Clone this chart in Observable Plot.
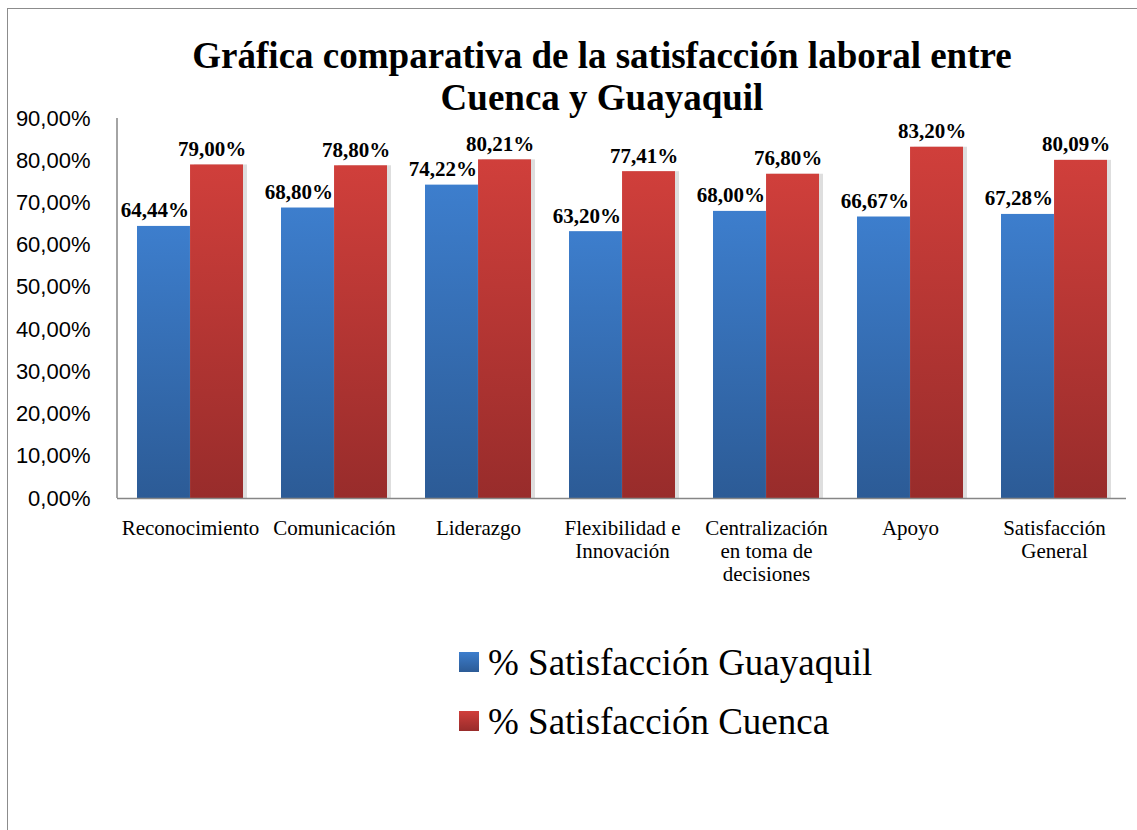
<!DOCTYPE html>
<html>
<head>
<meta charset="utf-8">
<script src="https://cdn.jsdelivr.net/npm/d3@7"></script>
<script src="https://cdn.jsdelivr.net/npm/@observablehq/plot@0.6"></script>
<style>
  html, body { margin: 0; padding: 0; background: #fff; }
  #root { position: relative; width: 1137px; height: 830px; overflow: hidden; background: #fff; }
  #frame { position: absolute; left: 7px; top: 8px; width: 1140px; height: 830px;
           border-left: 1.5px solid #8c8c8c; border-top: 1.5px solid #8c8c8c; }
  #title { position: absolute; left: 0; top: 35px; width: 1204px; text-align: center;
           font-family: "Liberation Serif", Tinos, "Noto Serif", "DejaVu Serif", serif; font-weight: bold;
           font-size: 37px; line-height: 42px; color: #000; }
  #chart { position: absolute; left: 0; top: 100px; }
  .leg { position: absolute; left: 459px; font-family: "Liberation Serif", Tinos, "Noto Serif", "DejaVu Serif", serif;
         font-size: 37px; line-height: 37px; color: #000; white-space: nowrap; }
  .leg .sw { position: absolute; left: 0; width: 20px; height: 20px; top: 8px; }
  .leg .tx { position: absolute; left: 29px; top: 0; }
</style>
</head>
<body>
<div id="root">
  <div id="frame"></div>
  <div id="title">Gráfica comparativa de la satisfacción laboral entre<br>Cuenca y Guayaquil</div>
  <div id="chart"></div>
  <div id="legend"></div>
</div>
<script>
// ---- Data ----
const categories = [
  "Reconocimiento",
  "Comunicación",
  "Liderazgo",
  "Flexibilidad e\nInnovación",
  "Centralización\nen toma de\ndecisiones",
  "Apoyo",
  "Satisfacción\nGeneral"
];
const guayaquil = [64.44, 68.80, 74.22, 63.20, 68.00, 66.67, 67.28];
const cuenca    = [79.00, 78.80, 80.21, 77.41, 76.80, 83.20, 80.09];
const seriesNames = ["% Satisfacción Guayaquil", "% Satisfacción Cuenca"];
const yTicks = [0, 10, 20, 30, 40, 50, 60, 70, 80, 90];

const rowsG = categories.map((c, i) => ({cat: c, value: guayaquil[i]}));
const rowsC = categories.map((c, i) => ({cat: c, value: cuenca[i]}));

// ---- Layout ----
const W = 1137, H = 500;
const mL = 117, mR = 11, mT = 18, mB = 102;
const padInner = 0.264, padOuter = 0.132;
const step = (W - mL - mR) / (categories.length - padInner + 2 * padOuter);
const bw = step * (1 - padInner);
const half = bw / 2;

const fmt = v => v.toFixed(2).replace(".", ",") + "%";
const serif = "'Liberation Serif', Tinos, 'Noto Serif', 'DejaVu Serif', serif";
const sans = "'Liberation Sans', Arial, sans-serif";

const plot = Plot.plot({
  width: W, height: H,
  marginLeft: mL, marginRight: mR, marginTop: mT, marginBottom: mB,
  style: {background: "transparent", color: "#000", overflow: "visible"},
  x: {domain: categories, paddingInner: padInner, paddingOuter: padOuter, align: 0.5},
  y: {domain: [0, 90]},
  marks: [
    Plot.barY(rowsC, {x: "cat", y: "value", insetLeft: half, fill: "#dedede", dx: 4}),
    Plot.barY(rowsG, {x: "cat", y: "value", insetRight: half, fill: "url(#gBlue)"}),
    Plot.barY(rowsC, {x: "cat", y: "value", insetLeft: half, fill: "url(#gRed)"}),
    Plot.ruleY([0], {stroke: "#868686", strokeWidth: 1.5}),
    Plot.text(rowsG, {x: "cat", y: "value", text: d => fmt(d.value), dx: -half / 2 - 9, dy: -9,
      lineAnchor: "bottom", fontFamily: serif, fontWeight: "bold", fontSize: 21, fill: "#000"}),
    Plot.text(rowsC, {x: "cat", y: "value", text: d => fmt(d.value), dx: half / 2 - 5, dy: -9,
      lineAnchor: "bottom", fontFamily: serif, fontWeight: "bold", fontSize: 21, fill: "#000"}),
    Plot.axisY(yTicks, {tickSize: 0, tickPadding: 27, tickFormat: d => d.toFixed(2).replace(".", ",") + "%",
      fontFamily: sans, fontSize: 22, fill: "#000", label: null}),
    Plot.axisX({tickSize: 0, tickPadding: 20, lineHeight: 1.1, fontFamily: serif, fontSize: 21,
      fill: "#000", label: null})
  ]
});

const svg = d3.select(plot);
const defs = svg.insert("defs", ":first-child");
const addGrad = (id, top, bottom) => {
  const g = defs.append("linearGradient").attr("id", id)
    .attr("x1", 0).attr("y1", 0).attr("x2", 0).attr("y2", 1);
  g.append("stop").attr("offset", "0%").attr("stop-color", top);
  g.append("stop").attr("offset", "100%").attr("stop-color", bottom);
};
addGrad("gBlue", "#3d7ecd", "#2c5b96");
addGrad("gRed", "#d03f3b", "#982c2b");

const ys = plot.scale("y"), xs = plot.scale("x");
svg.append("line")
  .attr("x1", xs.range[0]).attr("x2", xs.range[0])
  .attr("y1", ys.range[1]).attr("y2", ys.range[0])
  .attr("stroke", "#868686").attr("stroke-width", 1.5);

document.getElementById("chart").appendChild(plot);

const legend = document.getElementById("legend");
const swatches = [["#3d7ecd", "#2c5b96"], ["#d03f3b", "#982c2b"]];
seriesNames.forEach((name, i) => {
  const row = document.createElement("div");
  row.className = "leg";
  row.style.top = (644 + i * 59) + "px";
  row.innerHTML = `<div class="sw" style="background: linear-gradient(${swatches[i][0]}, ${swatches[i][1]})"></div><div class="tx"></div>`;
  row.querySelector(".tx").textContent = name;
  legend.appendChild(row);
});
</script>
</body>
</html>
